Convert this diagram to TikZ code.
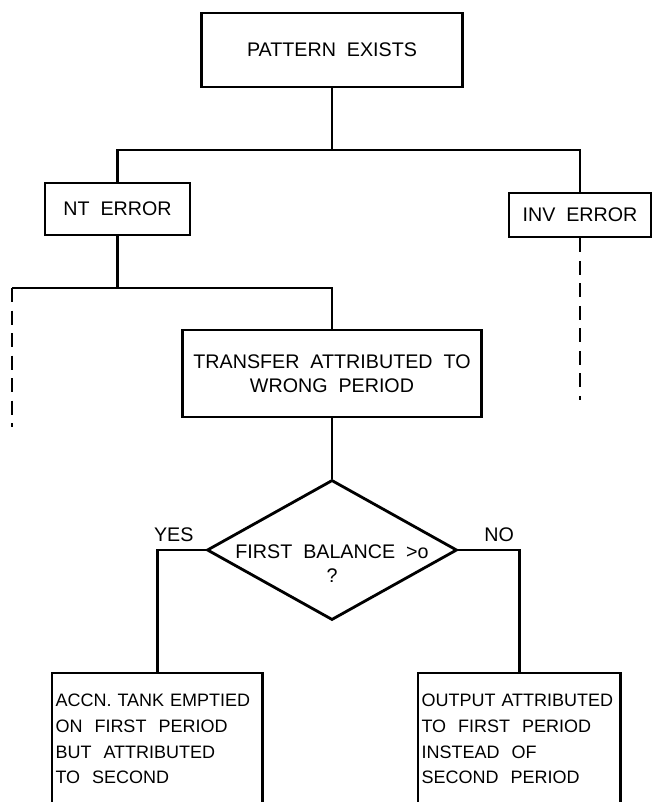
\documentclass[tikz,border=0pt]{standalone}
\usepackage{fontspec}
\setmainfont{Liberation Sans}
\usetikzlibrary{shapes.geometric,positioning}
\hyphenpenalty=10000

\begin{document}
\begin{tikzpicture}[
        x=0.025cm, y=-0.025cm,
        line width=2pt,
        box/.style={draw, rectangle, align=center, inner sep=0pt, font=\fontsize{14}{17}\selectfont},
        openbox/.style={rectangle, anchor=north west, align=left, inner sep=1.5pt, minimum height=3.225cm, font=\fontsize{12.8}{18.4}\selectfont},
        decision/.style={draw, diamond, inner sep=0pt, minimum width=6.25cm, minimum height=3.5cm},
        lab/.style={font=\fontsize{14}{17}\selectfont},
        trail/.style={dash pattern=on 10pt off 6pt}
    ]
        \useasboundingbox (0,0) rectangle (656,802);

        % Nodes
        \node[box, minimum width=6.525cm, minimum height=1.85cm] (pat) at (332, 50) {PATTERN~~EXISTS};
        \node[box, minimum width=3.625cm, minimum height=1.3cm] (nt) at (117.5, 209) {NT~~ERROR};
        \node[box, minimum width=3.55cm, minimum height=1.1cm] (inv) at (580, 215) {INV~~ERROR};
        \node[box, minimum width=7.475cm, minimum height=2.175cm] (tr) at (332, 373.5) {TRANSFER~~ATTRIBUTED~~TO\\WRONG~~PERIOD};
        \node[decision] (bal) at (332, 550) {};
        \node[lab, align=center] (baltext) at (332, 564) {FIRST~~BALANCE~~>o\\?};
        \node[openbox, minimum width=5.2cm, text width=5.2cm-3pt] (acc) at (52, 673) {ACCN. TANK EMPTIED\\ON~~FIRST~~PERIOD\\BUT~~ATTRIBUTED\\TO~~SECOND};
        \node[openbox, minimum width=5cm, text width=5cm-3pt] (out) at (418, 673) {OUTPUT ATTRIBUTED\\TO~~FIRST~~PERIOD\\INSTEAD~~OF\\SECOND~~PERIOD};
        \node[lab, anchor=south west] (yes) at (148, 548) {YES};
        \node[lab, anchor=south east] (no) at (520, 548) {NO};

        \coordinate (top) at (332, 150);
        \coordinate (mid) at (117.5, 288);
        \coordinate (farleft) at (12, 288);
        \coordinate (leftend) at (12, 427);
        \coordinate (invend) at (580, 400);

        % Lines
        \draw (pat.south) -- (top);
        \draw (nt.north) |- (top) -| (inv.north);
        \draw (nt.south) -- (mid);
        \draw (farleft) -| (tr.north);
        \draw[trail] (farleft) -- (leftend);
        \draw[trail] (inv.south) -- (invend);
        \draw (tr.south) -- (bal.north);
        \draw (bal.west) -| (acc.north);
        \draw (bal.east) -| (out.north);

        % open boxes at the foot
        \draw (acc.south west) -- (acc.north west) -- (acc.north east) -- (acc.south east);
        \draw (out.south west) -- (out.north west) -- (out.north east) -- (out.south east);
    \end{tikzpicture}
\end{document}
